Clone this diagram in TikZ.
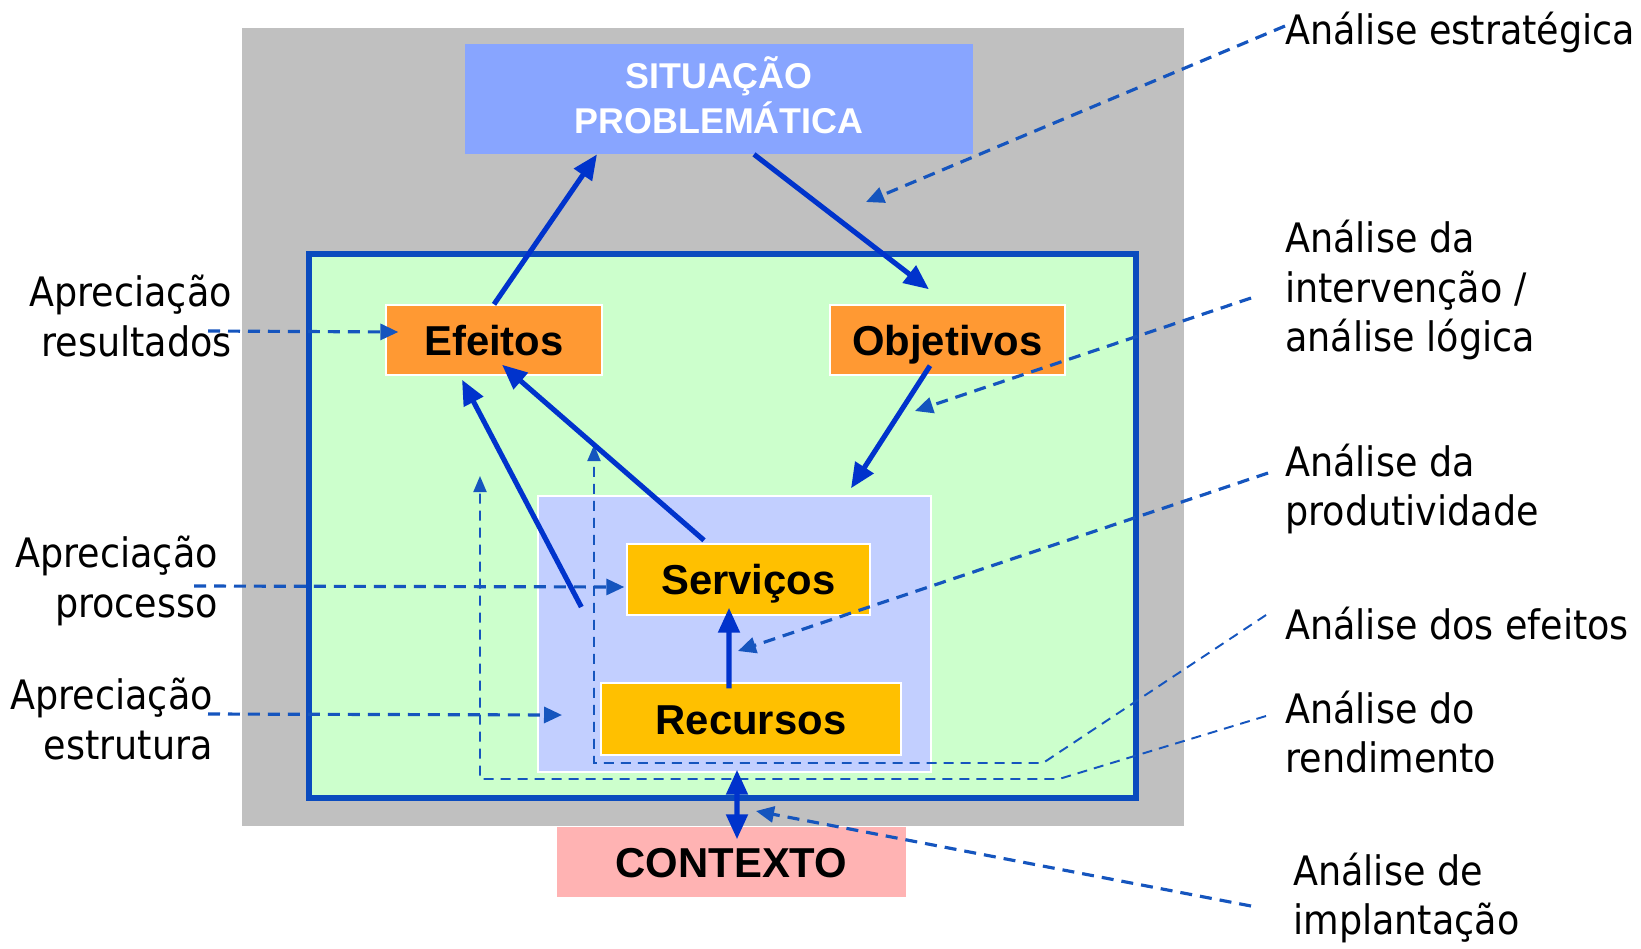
\documentclass[tikz,border=0pt]{standalone}
\usepackage{fontspec}
\setmainfont{Liberation Sans}
\newfontfamily\rotulofont{DejaVu Sans Condensed}
\usetikzlibrary{arrows.meta}

\definecolor{cinza}{HTML}{C0C0C0}
\definecolor{azulsit}{HTML}{88A5FF}
\definecolor{verde}{HTML}{CCFFCC}
\definecolor{azulborda}{HTML}{0A4BBE}
\definecolor{laranja}{HTML}{FF9933}
\definecolor{lilas}{HTML}{C2CFFF}
\definecolor{amarelo}{HTML}{FFC000}
\definecolor{rosa}{HTML}{FFB3B3}
\definecolor{azulseta}{HTML}{0033CC}
\definecolor{azultraco}{HTML}{1555BE}

\begin{document}
\begin{tikzpicture}[x=0.02cm, y=-0.02cm,
  caixa/.style={rectangle, inner sep=0pt, draw=white, line width=0.8pt,
    text height=17.2pt, text depth=0pt, font=\bfseries\fontsize{23.8}{28}\selectfont},
  rotulo/.style={inner sep=0pt, font=\rotulofont\fontsize{23.1}{28.3}\selectfont},
  seta/.style={draw=azulseta, line width=2.9pt, >={Triangle[length=0.5cm, width=0.42cm]}, ->},
  tracejado/.style={draw=azultraco, line width=1.8pt, dash pattern=on 0.24cm off 0.16cm,
    >={Triangle[length=0.36cm, width=0.32cm]}, ->},
  fino/.style={draw=azultraco, line width=1.1pt, dash pattern=on 0.2cm off 0.14cm,
    >={Triangle[length=0.32cm, width=0.26cm]}, ->}]

\useasboundingbox (0,0) rectangle (1641,948);

% fundos
\node[fill=cinza, inner sep=0pt, minimum width=18.84cm, minimum height=15.96cm] (fundo) at (713,427) {};
\node[fill=azulsit, inner sep=0pt, minimum width=10.16cm, minimum height=2.2cm, align=center,
  text=white, font=\bfseries\fontsize{20.4}{25.5}\selectfont] (situacao) at (719,99) {SITUAÇÃO\\PROBLEMÁTICA\vphantom{g}};
\node[fill=verde, draw=azulborda, line width=3.4pt, minimum width=16.54cm, minimum height=10.88cm] (interv) at (722.5,526) {};
\node[fill=lilas, draw=white, line width=0.8pt, minimum width=7.86cm, minimum height=5.52cm] (inner) at (734.5,634) {};

% caixas
\node[caixa, fill=laranja, minimum width=4.32cm, minimum height=1.4cm] (efeitos) at (494,340) {Efeitos};
\node[caixa, fill=laranja, minimum width=4.7cm, minimum height=1.4cm] (objetivos) at (947.5,340) {Objetivos};
\node[caixa, fill=amarelo, minimum width=4.86cm, minimum height=1.42cm] (servicos) at (748.5,579.5) {Serviços};
\node[caixa, fill=amarelo, minimum width=6cm, minimum height=1.44cm] (recursos) at (751,719) {Recursos};
\node[caixa, fill=rosa, draw=none, minimum width=6.98cm, minimum height=1.4cm] (contexto) at (731.5,862) {CONTEXTO};

% rotulos
\node[rotulo, anchor=west] (lestrat) at (1285,32) {Análise estratégica};
\node[rotulo, anchor=west, align=left] (lintervencao) at (1285,290) {Análise da\\intervenção /\\análise lógica};
\node[rotulo, anchor=west, align=left] (lprodutividade) at (1285,489) {Análise da\\produtividade};
\node[rotulo, anchor=west] (lefeitos) at (1285,624) {Análise dos efeitos};
\node[rotulo, anchor=west, align=left] (lrendimento) at (1285,732) {Análise do\\rendimento};
\node[rotulo, anchor=west, align=left] (limplantacao) at (1293,898) {Análise de\\implantação};
\node[rotulo, anchor=east, align=right] (lresultados) at (232,316) {Apreciação\\resultados};
\node[rotulo, anchor=east, align=right] (lprocesso) at (218,581) {Apreciação\\processo};
\node[rotulo, anchor=east, align=right] (lestrutura) at (213,719) {Apreciação\\estrutura};

% pontas livres
\coordinate (pestrat) at (866,202);
\coordinate (pintervencao) at (915,411);
\coordinate (pprodutividade) at (738,651);
\coordinate (cefeitos1) at (1043,763);
\coordinate (cefeitos2) at (594,763);
\coordinate (pefeitos) at (594,445);
\coordinate (crend1) at (1059,779);
\coordinate (crend2) at (480,779);
\coordinate (prend) at (480,476);
\coordinate (pimplantacao) at (756,811);
\coordinate (pestrutura) at (562,715);

% tracejados
\draw[tracejado] ([yshift=0.12cm]lestrat.west) -- (pestrat);
\draw[tracejado] ([xshift=-0.68cm,yshift=-0.16cm]lintervencao.west) -- (pintervencao);
\draw[tracejado] ([xshift=-0.34cm,yshift=0.32cm]lprodutividade.west) -- (pprodutividade);
\draw[fino] ([xshift=-0.38cm,yshift=0.18cm]lefeitos.west) -- (cefeitos1) -- (cefeitos2) -- (pefeitos);
\draw[fino] ([xshift=-0.38cm,yshift=0.32cm]lrendimento.west) -- (crend1) -- (crend2) -- (prend);
\draw[tracejado] ([xshift=-0.84cm,yshift=-0.16cm]limplantacao.west) -- (pimplantacao);
\draw[tracejado] ([xshift=-0.48cm,yshift=-0.3cm]lresultados.east) -- ([xshift=0.26cm,yshift=0.16cm]efeitos.west);
\draw[tracejado] ([xshift=-0.48cm,yshift=-0.1cm]lprocesso.east) -- ([xshift=-0.04cm,yshift=-0.15cm]servicos.west);
\draw[tracejado] ([xshift=-0.1cm,yshift=0.1cm]lestrutura.east) -- (pestrutura);

% setas
\draw[seta] (efeitos.north) -- ([xshift=-2.44cm]situacao.south);
\draw[seta] ([xshift=0.7cm]situacao.south) -- ([xshift=-0.37cm,yshift=0.3cm]objetivos.north);
\draw[seta] ([xshift=-0.35cm,yshift=0.2cm]objetivos.south) -- ([xshift=2.33cm,yshift=0.14cm]inner.north);
\draw[seta] ([xshift=-0.9cm,yshift=-0.55cm]servicos.west) -- ([xshift=-0.64cm,yshift=-0.08cm]efeitos.south);
\draw[seta] ([xshift=-0.89cm,yshift=0.06cm]servicos.north) -- ([xshift=0.16cm,yshift=0.22cm]efeitos.south);
\draw[seta] ([xshift=-0.44cm,yshift=-0.12cm]recursos.north) -- ([xshift=-0.39cm,yshift=0.16cm]servicos.south);
\draw[seta, <->] ([xshift=-0.28cm,yshift=-0.28cm]recursos.south) -- ([xshift=0.11cm,yshift=-0.26cm]contexto.north);

\end{tikzpicture}
\end{document}
